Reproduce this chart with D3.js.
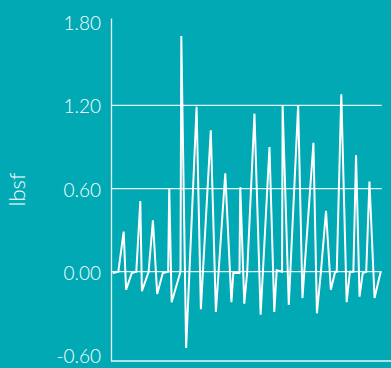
<!DOCTYPE html>
<html>
<head>
<meta charset="utf-8">
<script src="https://cdn.jsdelivr.net/npm/d3@7"></script>
<style>
  html, body { margin: 0; padding: 0; background: #01a9b4; }
  svg { display: block; }
</style>
</head>
<body>
<div id="chart"></div>
<script>
// time positions (arbitrary units, 0..100) and readings in lbsf
const times = [0, 2.1, 4.1, 5.0, 7.1, 8.8, 10.3, 10.9, 13.4, 15.0, 16.6, 18.7, 20.7, 21.1, 22.0,
  25.3, 25.6, 27.4, 31.3, 32.9, 36.6, 38.5, 42.0, 44.3, 45.0, 47.3, 47.6, 49.1, 50.2, 52.9,
  55.2, 58.5, 60.3, 61.2, 63.2, 63.4, 65.7, 69.2, 70.8, 74.9, 76.2, 77.7, 79.6, 81.4, 83.0,
  83.6, 85.3, 87.3, 88.5, 89.8, 90.8, 92.1, 93.3, 94.6, 95.8, 97.7, 100];
const values = [-0.01, 0.00, 0.29, -0.13, -0.01, 0.00, 0.51, -0.14, 0.00, 0.37, -0.16, -0.01, 0.00, 0.60, -0.22,
  0.00, 1.70, -0.55, 1.19, -0.27, 1.02, -0.29, 0.71, -0.22, -0.01, -0.01, 0.61, -0.23, 0.00, 1.14,
  -0.31, 0.90, -0.29, 0.01, 0.00, 1.20, -0.24, 1.20, -0.19, 0.93, -0.30, 0.00, 0.44, -0.13, 0.00,
  0.00, 1.28, -0.22, 0.00, 0.00, 0.84, -0.18, -0.01, 0.00, 0.65, -0.19, 0.00];
const yTicks = [-0.60, 0.00, 0.60, 1.20, 1.80];
const gridValues = [0.00, 0.60, 1.20];
const yLabel = "lbsf";

const width = 391, height = 368;
const axisX = 111;

const data = times.map((t, i) => ({t: t, v: values[i]}));

const x = d3.scaleLinear()
  .domain([0, 100])
  .range([112.7, 380.7]);

const y = d3.scaleLinear()
  .domain([-0.644, 1.83])
  .range([361, 18]);

const svg = d3.select("#chart")
  .append("svg")
  .attr("width", width)
  .attr("height", height)
  .attr("viewBox", [0, 0, width, height]);

svg.append("rect")
  .attr("width", width)
  .attr("height", height)
  .attr("fill", "#01a9b4");

// gridlines
svg.append("g")
  .selectAll("line")
  .data(gridValues)
  .join("line")
  .attr("x1", axisX)
  .attr("x2", 381.7)
  .attr("y1", d => y(d))
  .attr("y2", d => y(d))
  .attr("stroke", "#e8f7f8")
  .attr("stroke-width", 1.3);

// bottom line
svg.append("line")
  .attr("x1", axisX)
  .attr("x2", width)
  .attr("y1", y.range()[0])
  .attr("y2", y.range()[0])
  .attr("stroke", "#e8f7f8")
  .attr("stroke-width", 1.3);

// y axis
const yAxis = d3.axisLeft(y)
  .tickValues(yTicks)
  .tickSize(0)
  .tickPadding(10)
  .tickFormat(d => d3.format(".2f")(d).replace("\u2212", "-"));

const ax = svg.append("g")
  .attr("transform", `translate(${axisX},0)`)
  .call(yAxis);

ax.select(".domain")
  .attr("stroke", "#e8f7f8")
  .attr("stroke-width", 1.3);

ax.selectAll("text")
  .attr("fill", "#ffffff")
  .attr("dy", "0.4em")
  .style("font-family", "Lato, 'Open Sans', sans-serif")
  .style("font-weight", 300)
  .style("font-size", "19px");

// y label
svg.append("text")
  .attr("transform", `translate(17,${(y.range()[0] + y.range()[1]) / 2}) rotate(-90)`)
  .attr("text-anchor", "middle")
  .attr("dy", "0.35em")
  .attr("fill", "#ffffff")
  .style("font-family", "Lato, 'Open Sans', sans-serif")
  .style("font-weight", 300)
  .style("font-size", "22px")
  .text(yLabel);

// data line
const line = d3.line()
  .x(d => x(d.t))
  .y(d => y(d.v));

svg.append("path")
  .datum(data)
  .attr("fill", "none")
  .attr("stroke", "#ffffff")
  .attr("stroke-width", 2)
  .attr("stroke-linejoin", "miter")
  .attr("d", line);
</script>
</body>
</html>
